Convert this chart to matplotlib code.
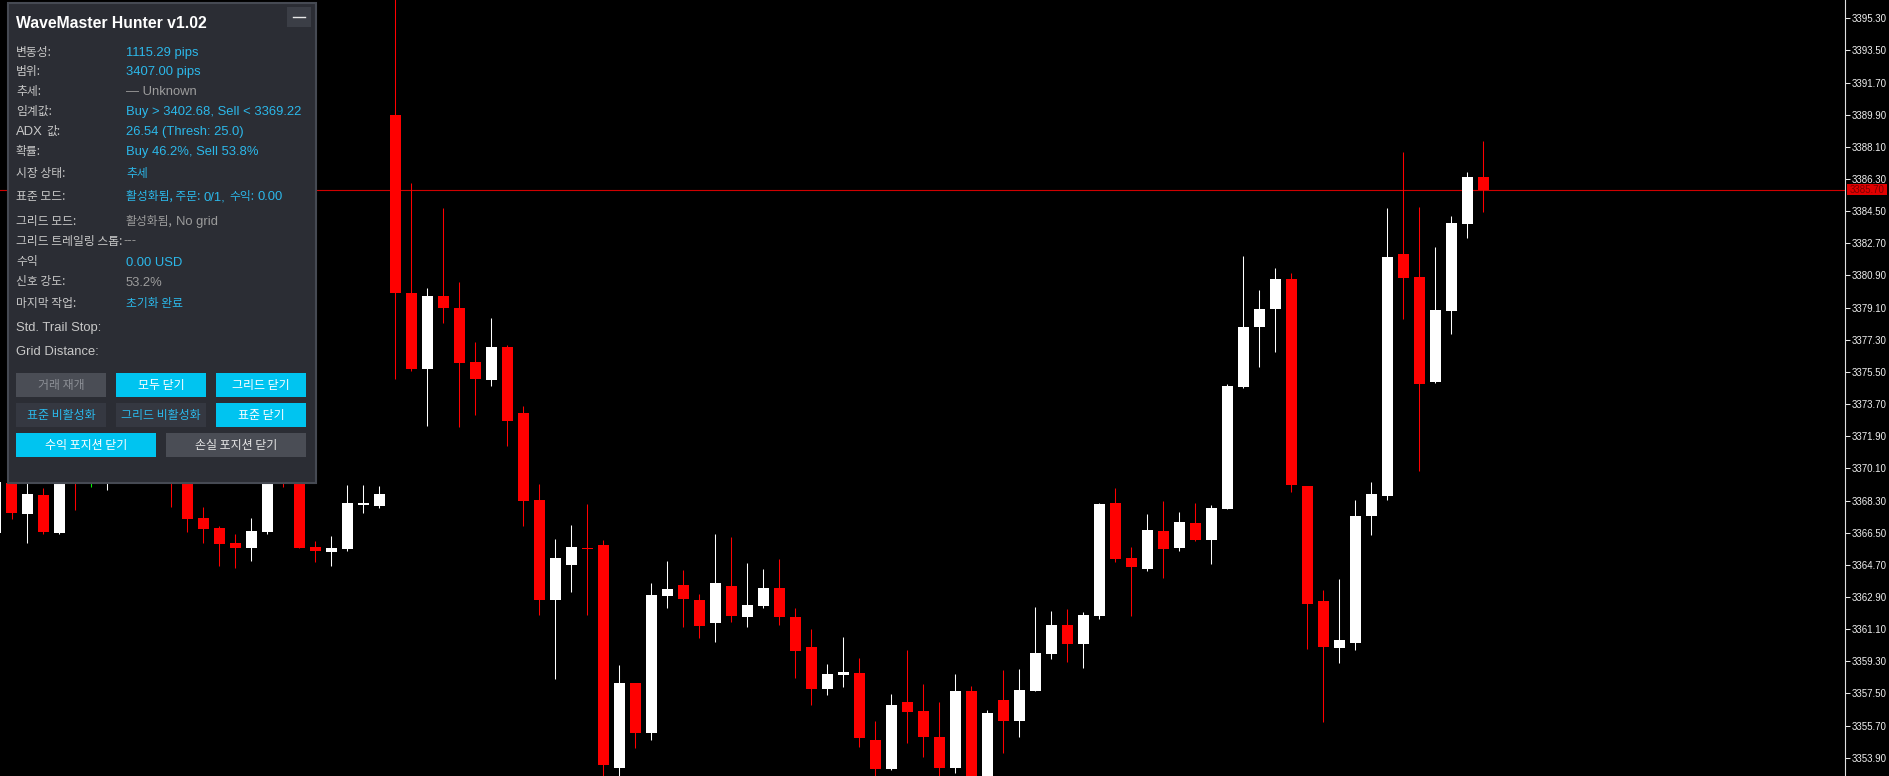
import matplotlib
matplotlib.use('Agg')
import matplotlib.pyplot as plt
from matplotlib.patches import Rectangle
from matplotlib.font_manager import FontProperties
import numpy as np

W, H, DPI = 1890, 776, 100

# ---------------- data ----------------
opens = [3366.48, 3369.30, 3367.56, 3368.61, 3366.50, 3372.00, 3371.00, 3370.00, 3371.20, 3372.40,
         3371.80, 3370.80, 3370.00, 3367.30, 3366.75, 3365.91, 3365.66, 3366.55, 3371.50, 3370.40,
         3365.70, 3365.43, 3365.59, 3368.03, 3367.99, 3389.90, 3379.92, 3375.68, 3379.75, 3379.09,
         3376.07, 3375.05, 3376.90, 3373.19, 3368.34, 3362.74, 3364.69, 3365.62, 3365.81, 3353.31,
         3358.07, 3355.27, 3362.97, 3363.57, 3362.73, 3361.46, 3363.51, 3361.79, 3362.41, 3363.38,
         3361.76, 3360.08, 3357.76, 3358.55, 3358.63, 3354.89, 3353.25, 3357.00, 3356.52, 3355.04,
         3353.35, 3357.61, 3352.60, 3357.11, 3355.96, 3357.65, 3359.71, 3361.31, 3360.28, 3361.85,
         3368.16, 3365.07, 3364.45, 3366.58, 3365.62, 3367.02, 3366.09, 3367.85, 3374.65, 3378.04,
         3379.05, 3380.73, 3369.10, 3362.67, 3360.07, 3360.31, 3367.43, 3368.56, 3382.11, 3380.83,
         3374.94, 3378.92, 3383.77, 3386.43]
highs = [3369.60, 3369.50, 3369.50, 3368.98, 3370.90, 3372.50, 3372.00, 3372.20, 3373.00, 3373.30,
         3372.40, 3371.30, 3370.60, 3367.95, 3366.87, 3366.43, 3367.30, 3370.80, 3372.00, 3370.90,
         3366.03, 3366.31, 3369.17, 3369.17, 3369.11, 3397.50, 3386.08, 3380.20, 3384.68, 3380.54,
         3377.20, 3378.51, 3377.01, 3373.60, 3369.22, 3366.17, 3366.93, 3368.11, 3366.09, 3359.09,
         3358.07, 3363.70, 3364.91, 3364.41, 3363.05, 3366.41, 3366.24, 3364.82, 3364.45, 3365.01,
         3362.27, 3361.09, 3359.13, 3360.64, 3359.50, 3355.97, 3357.45, 3359.93, 3358.01, 3357.04,
         3358.59, 3357.94, 3356.57, 3358.80, 3358.84, 3362.34, 3362.09, 3362.25, 3362.05, 3368.16,
         3368.98, 3365.69, 3367.54, 3368.26, 3367.63, 3368.17, 3368.03, 3374.85, 3381.98, 3380.06,
         3381.31, 3381.04, 3369.11, 3363.29, 3363.93, 3368.32, 3369.31, 3384.69, 3387.83, 3384.74,
         3382.52, 3384.21, 3386.69, 3388.43]
lows = [3366.20, 3367.25, 3365.91, 3366.41, 3366.44, 3367.77, 3369.06, 3368.89, 3370.50, 3370.80,
        3369.90, 3367.95, 3366.55, 3365.91, 3364.63, 3364.54, 3364.93, 3366.41, 3369.04, 3365.62,
        3364.87, 3364.63, 3365.47, 3367.58, 3367.90, 3375.13, 3375.54, 3372.50, 3378.26, 3372.44,
        3373.11, 3374.71, 3371.33, 3366.87, 3361.91, 3358.28, 3363.19, 3361.89, 3352.60, 3352.70,
        3354.43, 3354.89, 3362.27, 3361.24, 3360.59, 3360.40, 3361.52, 3361.24, 3362.27, 3361.33,
        3358.35, 3356.85, 3357.41, 3357.88, 3354.48, 3352.60, 3353.21, 3354.74, 3353.92, 3352.70,
        3353.04, 3352.40, 3352.40, 3354.17, 3355.05, 3357.63, 3359.45, 3359.25, 3358.90, 3361.64,
        3364.87, 3361.85, 3364.34, 3363.96, 3365.46, 3366.02, 3364.72, 3367.83, 3374.60, 3375.79,
        3376.64, 3368.75, 3359.99, 3355.92, 3359.22, 3359.95, 3366.35, 3368.32, 3378.46, 3369.96,
        3374.88, 3377.64, 3383.00, 3384.45]
closes = [3369.35, 3367.58, 3368.67, 3366.55, 3370.40, 3370.00, 3371.00, 3371.50, 3372.40, 3371.60,
          3370.60, 3369.90, 3367.27, 3366.69, 3365.88, 3365.66, 3366.59, 3370.30, 3370.20, 3365.66,
          3365.47, 3365.64, 3368.16, 3368.18, 3368.67, 3379.92, 3375.68, 3379.75, 3379.09, 3376.01,
          3375.10, 3376.90, 3372.74, 3368.28, 3362.74, 3365.07, 3365.71, 3365.57, 3353.49, 3358.07,
          3355.27, 3363.01, 3363.33, 3362.79, 3361.27, 3363.70, 3361.83, 3362.45, 3363.38, 3361.79,
          3359.89, 3357.73, 3358.59, 3358.70, 3355.02, 3353.25, 3356.85, 3356.48, 3355.04, 3353.34,
          3357.61, 3352.60, 3356.43, 3355.96, 3357.67, 3359.76, 3361.31, 3360.28, 3361.88, 3368.09,
          3365.03, 3364.56, 3366.64, 3365.57, 3367.09, 3366.09, 3367.88, 3374.70, 3378.04, 3379.05,
          3380.70, 3369.15, 3362.53, 3360.08, 3360.50, 3367.43, 3368.64, 3381.96, 3380.78, 3374.80,
          3378.97, 3383.84, 3386.43, 3385.70]

price_ticks = [3353.90, 3355.70, 3357.50, 3359.30, 3361.10, 3362.90, 3364.70, 3366.50,
               3368.30, 3370.10, 3371.90, 3373.70, 3375.50, 3377.30, 3379.10, 3380.90,
               3382.70, 3384.50, 3386.30, 3388.10, 3389.90, 3391.70, 3393.50, 3395.30]
current_price = 3385.70
y_min, y_max = 3352.876, 3396.325

panel_title = "WaveMaster Hunter v1.02"

# ---------------- figure ----------------
fig = plt.figure(figsize=(W / DPI, H / DPI), dpi=DPI, facecolor='black')
AXR = 1845
ax = fig.add_axes([0, 0, AXR / W, 1])
ax.set_facecolor('black')
n = len(opens)
idx = np.arange(n)
o = np.array(opens); hi = np.array(highs); lo = np.array(lows); c = np.array(closes)
ax.set_xlim(4.5 / 16, (AXR + 4.5) / 16)
ax.set_ylim(y_min, y_max)

cols = np.where(c > o, '#ffffff', np.where(c < o, '#ff0000', '#00ff00'))
ax.axhline(current_price, color='#d00000', lw=0.8, zorder=1)
ax.vlines(idx, lo, hi, colors=cols, linewidth=0.75, zorder=2)
bottom = np.minimum(o, c)
height = np.maximum(np.abs(c - o), 0.06)
ax.bar(idx, height, bottom=bottom, width=11 / 16, color=cols, linewidth=0, zorder=3)

for s in ['top', 'left', 'bottom']:
    ax.spines[s].set_visible(False)
ax.spines['right'].set_color('#e0e0e0')
ax.spines['right'].set_linewidth(0.8)
ax.set_xticks([])
ax.yaxis.tick_right()
ax.set_yticks(price_ticks)
ax.set_yticklabels([f"{v:.2f}" for v in price_ticks])
ax.tick_params(axis='y', colors='#e8e8e8', length=3.6, width=0.75, pad=1.0,
               labelsize=7.0, direction='out')
for t in ax.get_yticklabels():
    t.set_fontfamily('Liberation Sans')
    t.set_color('#f0f0f0')

# ---------------- overlay (pixel coordinates) ----------------
ov = fig.add_axes([0, 0, 1, 1])
ov.set_xlim(0, W)
ov.set_ylim(H, 0)
ov.axis('off')
ov.patch.set_alpha(0)
ov.set_zorder(5)

# price label
yp = H - ax.transData.transform((0, current_price))[1]
ov.add_patch(Rectangle((1847, yp - 5.3), 40, 10.8, facecolor='#e00000', edgecolor='none'))
ov.text(1850, yp + 0.3, f"{current_price:.2f}", color='#7a0000', fontsize=7.0,
        family='Liberation Sans', va='center', ha='left')

# panel
BG = '#2b2d34'
ov.add_patch(Rectangle((7.5, 3), 308.5, 480, facecolor=BG, edgecolor='#464a53', lw=1.5))
ov.add_patch(Rectangle((287, 7), 24, 20, facecolor='#3b3e46', edgecolor='none'))
ov.plot([293, 305], [16.5, 16.5], color='#e8e8e8', lw=1.0)

fp_title = FontProperties(family='Liberation Sans', weight='bold', size=11.3)
ov.text(16, 27.5, panel_title, fontproperties=fp_title, color='white', va='baseline')

fpK = FontProperties(family=['Noto Sans CJK KR', 'DejaVu Sans'], size=8.5)
fpL = FontProperties(family=['Liberation Sans', 'DejaVu Sans'], size=9.4)
fpB = FontProperties(family=['Noto Sans CJK KR', 'DejaVu Sans'], size=8.6)

LAB = '#c8c8c8'
CY = '#2bb8ea'
GR = '#9c9c9c'

renderer = fig.canvas.get_renderer()


def runs(x, y, parts):
    for txt, fp, col, gap in parts:
        t = ov.text(x, y, txt, fontproperties=fp, color=col, va='baseline', ha='left')
        bb = t.get_window_extent(renderer=renderer)
        x += bb.width + gap


LX, VX = 16, 126
rows = [
    (56, [("변동성:", fpK, LAB, 0)], [("1115.29 pips", fpL, CY, 0)]),
    (75.5, [("범위:", fpK, LAB, 0)], [("3407.00 pips", fpL, CY, 0)]),
    (95, [("추세:", fpK, LAB, 0)], [("— Unknown", fpL, GR, 0)]),
    (115, [("임계값:", fpK, LAB, 0)], [("Buy > 3402.68, Sell < 3369.22", fpL, CY, 0)]),
    (135, [("ADX", fpL, LAB, 3.5), ("값:", fpK, LAB, 0)], [("26.54 (Thresh: 25.0)", fpL, CY, 0)]),
    (155.5, [("확률:", fpK, LAB, 0)], [("Buy 46.2%, Sell 53.8%", fpL, CY, 0)]),
    (177, [("시장 상태:", fpK, LAB, 0)], [("추세", fpK, CY, 0)]),
    (200, [("표준 모드:", fpK, LAB, 0)],
     [("활성화됨, 주문:", fpK, CY, 3.5), ("0/1,", fpL, CY, 3.5), ("수익:", fpK, CY, 3.5), ("0.00", fpL, CY, 0)]),
    (224.5, [("그리드 모드:", fpK, LAB, 0)], [("활성화됨,", fpK, GR, 3.5), ("No grid", fpL, GR, 0)]),
    (244.5, [("그리드 트레일링 스톱:", fpK, LAB, 0.5), ("---", fpL, GR, 0)], []),
    (265.5, [("수익", fpK, LAB, 0)], [("0.00 USD", fpL, CY, 0)]),
    (285.5, [("신호 강도:", fpK, LAB, 0)], [("53.2%", fpL, GR, 0)]),
    (306.5, [("마지막 작업:", fpK, LAB, 0)], [("초기화 완료", fpK, CY, 0)]),
    (330.5, [("Std. Trail Stop:", fpL, LAB, 0)], []),
    (355, [("Grid Distance:", fpL, LAB, 0)], []),
]
for y, lab, val in rows:
    runs(LX, y, lab)
    if val:
        runs(VX, y, val)

# buttons
BTN_CY = '#00c4f0'
BTN_GR = '#4a4d55'
BTN_DK = '#353841'
buttons = [
    (16, 372.5, 90, 24.5, BTN_GR, "거래 재개", '#8c8f96'),
    (116, 372.5, 90, 24.5, BTN_CY, "모두 닫기", '#ffffff'),
    (216, 372.5, 90, 24.5, BTN_CY, "그리드 닫기", '#ffffff'),
    (16, 402.5, 90, 24.5, BTN_DK, "표준 비활성화", CY),
    (116, 402.5, 90, 24.5, BTN_DK, "그리드 비활성화", CY),
    (216, 402.5, 90, 24.5, BTN_CY, "표준 닫기", '#ffffff'),
    (16, 432.5, 140, 24.5, BTN_CY, "수익 포지션 닫기", '#ffffff'),
    (166, 432.5, 140, 24.5, BTN_GR, "손실 포지션 닫기", '#e6e6e6'),
]
for bx, by, bw, bh, fc, txt, tc in buttons:
    ov.add_patch(Rectangle((bx, by), bw, bh, facecolor=fc, edgecolor='none'))
    ov.text(bx + bw / 2, by + bh / 2 + 0.5, txt, fontproperties=fpB, color=tc,
            ha='center', va='center')

fig.savefig('out.png', dpi=DPI, facecolor='black')
